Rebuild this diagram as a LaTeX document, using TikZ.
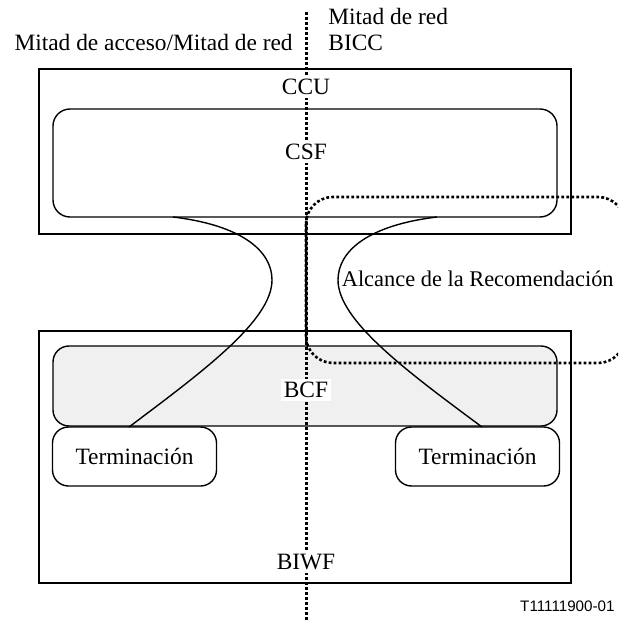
\documentclass[tikz,border=0pt]{standalone}
\usepackage{fontspec}
\setmainfont{Liberation Serif}
\newfontfamily\refsans{Liberation Sans}
\usetikzlibrary{positioning,calc}

\begin{document}
\begin{tikzpicture}[
    x=0.5pt, y=-0.5pt,
    font=\fontsize{11.7}{14}\selectfont,
    unitbox/.style={rectangle, draw, line width=0.7pt, inner sep=0pt, outer sep=0pt},
    funcbox/.style={rectangle, draw, line width=0.7pt, rounded corners=8.5pt, inner sep=0pt, outer sep=0pt},
    termbox/.style={rectangle, draw, line width=0.7pt, rounded corners=8pt, minimum width=82pt, minimum height=29.5pt, inner sep=0pt, outer sep=0pt},
    tag/.style={fill=white, inner sep=1.5pt},
    plain/.style={inner sep=0pt},
    link/.style={line width=0.7pt},
    cut/.style={line width=1.5pt, dash pattern=on 1.5pt off 1pt},
    scope line/.style={line width=1.3pt, dash pattern=on 1.4pt off 1.1pt}
]
\useasboundingbox (0,0) rectangle (618,625);

% Units
\node[unitbox, minimum width=266pt, minimum height=82.5pt] (ccu) at (305,151.5) {};
\node[unitbox, minimum width=266pt, minimum height=126pt] (biwf) at (305,457) {};

% Functions
\node[funcbox, minimum width=252pt, minimum height=54pt] (csf) at (305,163) {};
\node[funcbox, fill=black!6, minimum width=252pt, minimum height=40pt, rounded corners=8pt] (bcf) at (305,386) {};
\node[termbox] (terml) at (134.5,456.5) {Terminación};
\node[termbox] (termr) at (477.5,456.5) {Terminación};

% Connection ends
\coordinate (csfl) at (173,217);
\coordinate (csfr) at (437,217);
\coordinate (tl) at (129,427);
\coordinate (tr) at (482,427);

% Links
\draw[link] (csfl) .. controls (240,225) and (272,250) .. (272,280)
                   .. controls (272,320) and (205,370) .. (tl);
\draw[link] (csfr) .. controls (370,225) and (338,250) .. (338,280)
                   .. controls (338,320) and (405,370) .. (tr);

% Scope of the Recommendation
\begin{scope}
\clip (0,0) rectangle (618,625);
\draw[scope line, rounded corners=13.5pt] (306,197) rectangle (625,363);
\end{scope}

% Access/network boundary
\coordinate (top) at (306,12);
\coordinate (bot) at (306,620);
\draw[cut] (top) -- (bot);

% Labels
\node[tag] (ccut) at (306,87) {CCU};
\node[tag] (csft) at (306,152) {CSF};
\node[tag] (bcft) at (306,390) {BCF};
\node[tag] (biwft) at (306,562) {BIWF};
\node[plain, anchor=base west] (red) at (328,25) {Mitad de red};
\node[plain, anchor=base west] (bicc) at (328,51) {BICC};
\node[plain, anchor=base east] (acc) at (293,51) {Mitad de acceso/Mitad de red};
\node[plain, anchor=base east, font=\fontsize{11.2}{13}\selectfont] (alc) at (614,286) {Alcance de la Recomendación};
\node[plain, anchor=base east, font=\refsans\fontsize{7.6}{9}\selectfont] (fig) at (615,611) {T11111900-01};

\end{tikzpicture}
\end{document}
